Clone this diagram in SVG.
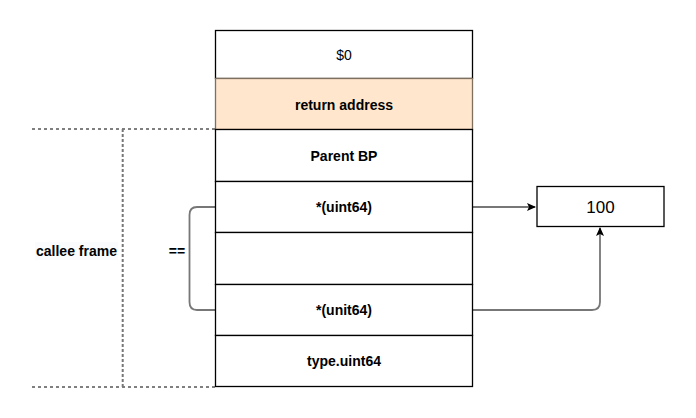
<svg xmlns="http://www.w3.org/2000/svg" width="696" height="418" viewBox="0 0 696 418">
<defs>
<style>
.cell{fill:#ffffff;stroke:#000000;stroke-width:1.3}
.lbl{font-family:"Liberation Sans",Arial,sans-serif;font-size:14px;font-weight:bold;fill:#000;text-anchor:middle}
.dash{fill:none;stroke:#000;stroke-width:1;stroke-dasharray:3,3}
.vdash{fill:none;stroke:#777;stroke-width:2;stroke-dasharray:3,2}
.conn{fill:none;stroke:#777;stroke-width:1.8}
</style>
<marker id="arr" markerWidth="10" markerHeight="10" refX="8" refY="5" orient="auto" markerUnits="userSpaceOnUse">
<path d="M0,1 L9,5 L0,9 L2,5 Z" fill="#000"/>
</marker>
</defs>
<rect width="696" height="418" fill="#ffffff"/>
<g id="connectors">
<path class="conn" d="M472,207 L535,207" marker-end="url(#arr)"/>
<path class="conn" d="M472,310 L592,310 Q600,310 600,302 L600,228" marker-end="url(#arr)"/>
<path class="conn" d="M215,207 L197,207 Q189.5,207 189.5,215 L189.5,302 Q189.5,310 197,310 L215,310"/>
<path class="dash" d="M32,129 L215,129"/>
<path class="dash" d="M32,387 L215,387"/>
<path class="vdash" d="M122.7,129 L122.7,387"/>
</g>
<g id="cell-0"><rect class="cell" x="215.5" y="30.5" width="257" height="48"/><text class="lbl" x="344" y="59.5" style="font-weight:normal">$0</text></g>
<g id="cell-ret"><rect x="215.5" y="78.5" width="257" height="51" fill="#ffe6cc" stroke="#7f6f5f" stroke-width="1.3"/><text class="lbl" x="344" y="109.5">return address</text></g>
<g id="cell-bp"><rect class="cell" x="215.5" y="129.5" width="257" height="52"/><text class="lbl" x="344" y="160.5">Parent BP</text></g>
<g id="cell-p1"><rect class="cell" x="215.5" y="181.5" width="257" height="51"/><text class="lbl" x="344" y="211.5">*(uint64)</text></g>
<g id="cell-empty"><rect class="cell" x="215.5" y="232.5" width="257" height="52"/></g>
<g id="cell-p2"><rect class="cell" x="215.5" y="284.5" width="257" height="51"/><text class="lbl" x="344" y="314.5">*(unit64)</text></g>
<g id="cell-type"><rect class="cell" x="215.5" y="335.5" width="257" height="51"/><text class="lbl" x="344" y="366">type.uint64</text></g>
<g id="val"><rect class="cell" x="537" y="186.5" width="127" height="40"/><text x="600.5" y="212.5" font-family="'Liberation Sans',Arial,sans-serif" font-size="17" text-anchor="middle" fill="#000">100</text></g>
<g id="callee"><rect x="35" y="242" width="83" height="18" fill="#fafbfc"/><text class="lbl" x="76.5" y="256">callee frame</text></g>
<g id="eq"><text class="lbl" x="177" y="256">==</text></g>
</svg>
